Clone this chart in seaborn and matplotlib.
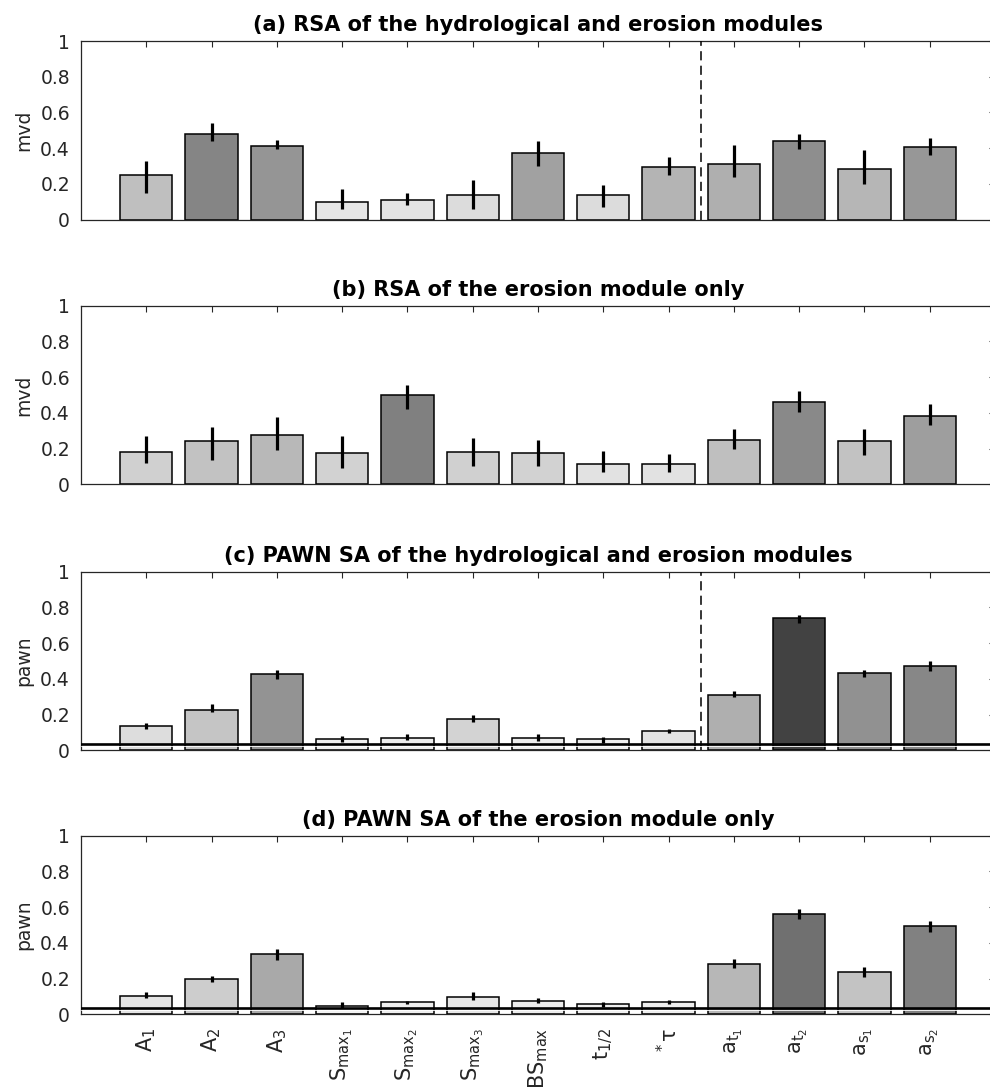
import numpy as np
import pandas as pd
import matplotlib
matplotlib.use("Agg")
import matplotlib.pyplot as plt
import seaborn as sns
from matplotlib.ticker import FuncFormatter

## DATA ##

params = [r'$\mathregular{A_1}$', r'$\mathregular{A_2}$', r'$\mathregular{A_3}$',
          r'$\mathregular{S_{max_1}}$', r'$\mathregular{S_{max_2}}$', r'$\mathregular{S_{max_3}}$',
          r'$\mathregular{BS_{max}}$', r'$\mathregular{t_{1/2}}$', r'$\mathregular{^*\tau}$',
          r'$\mathregular{a_{t_1}}$', r'$\mathregular{a_{t_2}}$', r'$\mathregular{a_{s_1}}$',
          r'$\mathregular{a_{s_2}}$']

# (a) RSA, hydrological + erosion
rsa_full = [0.25, 0.48, 0.414, 0.10, 0.11, 0.137, 0.37, 0.137, 0.294, 0.313, 0.442, 0.285, 0.406]
rsa_full_lo = [0.15, 0.44, 0.395, 0.06, 0.08, 0.06, 0.30, 0.07, 0.25, 0.24, 0.395, 0.20, 0.36]
rsa_full_hi = [0.33, 0.54, 0.445, 0.17, 0.15, 0.22, 0.44, 0.195, 0.35, 0.415, 0.48, 0.39, 0.455]

# (b) RSA, erosion only
rsa_ero = [0.183, 0.24, 0.278, 0.175, 0.50, 0.183, 0.175, 0.112, 0.112, 0.25, 0.463, 0.24, 0.38]
rsa_ero_lo = [0.117, 0.136, 0.19, 0.09, 0.423, 0.10, 0.10, 0.067, 0.07, 0.20, 0.403, 0.164, 0.33]
rsa_ero_hi = [0.27, 0.32, 0.375, 0.27, 0.556, 0.26, 0.25, 0.188, 0.17, 0.308, 0.522, 0.308, 0.448]

# (c) PAWN, hydrological + erosion
pawn_full = [0.135, 0.228, 0.425, 0.062, 0.071, 0.172, 0.071, 0.062, 0.108, 0.312, 0.74, 0.432, 0.471]
pawn_full_lo = [0.12, 0.215, 0.40, 0.047, 0.056, 0.159, 0.052, 0.041, 0.094, 0.296, 0.714, 0.408, 0.445]
pawn_full_hi = [0.155, 0.258, 0.452, 0.082, 0.09, 0.196, 0.09, 0.073, 0.12, 0.333, 0.76, 0.452, 0.50]

# (d) PAWN, erosion only
pawn_ero = [0.104, 0.198, 0.336, 0.048, 0.067, 0.095, 0.076, 0.058, 0.067, 0.282, 0.56, 0.235, 0.494]
pawn_ero_lo = [0.093, 0.183, 0.304, 0.037, 0.058, 0.08, 0.065, 0.043, 0.056, 0.258, 0.535, 0.21, 0.461]
pawn_ero_hi = [0.123, 0.216, 0.366, 0.067, 0.076, 0.123, 0.09, 0.07, 0.078, 0.31, 0.59, 0.265, 0.524]

pawn_threshold = 0.035

titles = ["(a) RSA of the hydrological and erosion modules",
          "(b) RSA of the erosion module only",
          "(c) PAWN SA of the hydrological and erosion modules",
          "(d) PAWN SA of the erosion module only"]
ylabels = ["mvd", "mvd", "pawn", "pawn"]
yticks = [0, 0.2, 0.4, 0.6, 0.8, 1]

#######

sns.set_style("white")
plt.rcParams['font.family'] = ['DejaVu Sans']
plt.rcParams['mathtext.fontset'] = 'dejavusans'

axcol = '#262626'
fig = plt.figure(figsize=(9.9, 10.89), dpi=100)
H = 1089.0
tops = [41, 305.7, 571.7, 835.7]
panel_h = 178.5

panels = [(rsa_full, rsa_full_lo, rsa_full_hi, True, False),
          (rsa_ero, rsa_ero_lo, rsa_ero_hi, False, False),
          (pawn_full, pawn_full_lo, pawn_full_hi, True, True),
          (pawn_ero, pawn_ero_lo, pawn_ero_hi, False, True)]

for i, (vals, lo, hi, dashed, thresh) in enumerate(panels):
    ax = fig.add_axes([81 / 990, 1 - (tops[i] + panel_h) / H, 914 / 990, panel_h / H])
    df = pd.DataFrame({"param": params, "value": vals})
    # bar shade follows the value: darker = more sensitive
    pal = {p: str(float(np.clip(1 - v, 0, 1))) for p, v in zip(params, vals)}
    sns.barplot(data=df, x="param", y="value", hue="param", palette=pal, legend=False,
                width=0.8, saturation=1, edgecolor="black", linewidth=1.1,
                errorbar=None, ax=ax)
    ax.vlines(range(len(params)), lo, hi, color="black", lw=2.3, zorder=3)

    if dashed:
        ax.axvline(8.5, color="black", lw=1.1, ls=(0, (6, 3.5)), zorder=3)
    if thresh:
        ax.axhline(pawn_threshold, color="black", lw=1.9, zorder=4)
        ax.axhline(pawn_threshold - 0.012, color="white", lw=0.6, zorder=4)

    ax.set_xlim(-1, len(params))
    ax.set_ylim(0, 1)
    ax.set_yticks(yticks)
    ax.yaxis.set_major_formatter(FuncFormatter(lambda v, p: f"{v:g}"))
    ax.set_xticks(range(len(params)))
    ax.set_title(titles[i], fontsize=15, fontweight="bold", pad=7, color="black")
    ax.set_ylabel(ylabels[i], fontsize=13.5, color=axcol, labelpad=5)
    ax.set_xlabel("")
    ax.tick_params(direction="in", top=True, right=True, length=4.5, width=0.8,
                   colors=axcol, labelsize=13.5)
    ax.tick_params(axis="y", pad=8)
    if i == 3:
        ax.set_xticklabels(params, rotation=90, fontsize=15)
        ax.tick_params(axis="x", pad=10)
    else:
        ax.tick_params(axis="x", labelbottom=False)
    for s in ax.spines.values():
        s.set_visible(True)
        s.set_color(axcol)
        s.set_linewidth(0.9)

fig.savefig("out.png", dpi=100)
